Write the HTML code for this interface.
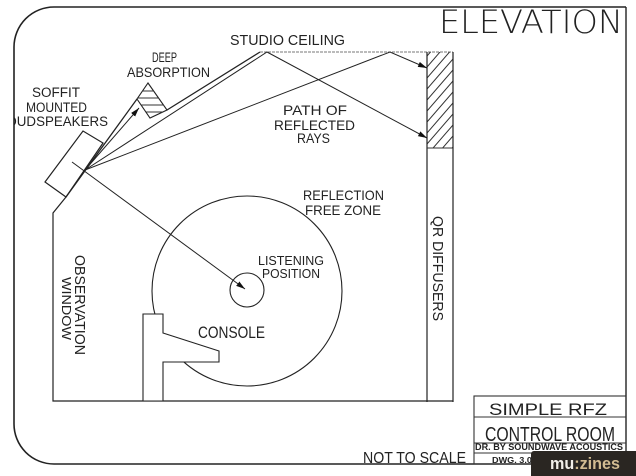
<!DOCTYPE html>
<html><head><meta charset="utf-8"><style>
html,body{margin:0;padding:0;background:#fff;}
svg{display:block;}
text{font-family:"Liberation Sans",sans-serif;fill:#222;}
</style></head><body>
<svg width="636" height="476" viewBox="0 0 636 476" xmlns="http://www.w3.org/2000/svg">
<defs>
<marker id="ah" viewBox="0 0 10 6" refX="10" refY="3" markerWidth="9" markerHeight="6" markerUnits="userSpaceOnUse" orient="auto">
<path d="M0,0 L10,3 L0,6 z" fill="#111"/>
</marker>
<clipPath id="hb"><rect x="427" y="52" width="26" height="96"/></clipPath>
<clipPath id="ab"><polygon points="148,83 167,110 150,118 137,99"/></clipPath>
<clipPath id="lc"><rect x="14" y="100" width="120" height="40"/></clipPath>
</defs>
<rect x="0" y="0" width="636" height="476" fill="#fff"/>

<!-- outer border -->
<path d="M626 7 L54 7 A40 40 0 0 0 14 47 L14 424 A40 40 0 0 0 54 464 L626 464" fill="none" stroke="#222" stroke-width="1.6"/>
<line x1="626" y1="7" x2="626" y2="464" stroke="#222" stroke-width="1.4"/>

<!-- title block -->
<rect x="474" y="396" width="152" height="68" fill="none" stroke="#333" stroke-width="1.1"/>
<line x1="474" y1="417" x2="626" y2="417" stroke="#333" stroke-width="1"/>
<line x1="474" y1="443" x2="626" y2="443" stroke="#333" stroke-width="1"/>
<line x1="474" y1="453" x2="626" y2="453" stroke="#333" stroke-width="1"/>

<!-- ceiling -->
<line x1="260" y1="52" x2="453" y2="52" stroke="#777" stroke-width="1" stroke-dasharray="3 1"/>

<!-- right wall / QR diffusers -->
<g clip-path="url(#hb)" stroke="#333" stroke-width="1">
<line x1="427" y1="56" x2="453" y2="26"/>
<line x1="427" y1="67" x2="453" y2="37"/>
<line x1="427" y1="78" x2="453" y2="48"/>
<line x1="427" y1="89" x2="453" y2="59"/>
<line x1="427" y1="100" x2="453" y2="70"/>
<line x1="427" y1="111" x2="453" y2="81"/>
<line x1="427" y1="122" x2="453" y2="92"/>
<line x1="427" y1="133" x2="453" y2="103"/>
<line x1="427" y1="144" x2="453" y2="114"/>
<line x1="427" y1="155" x2="453" y2="125"/>
<line x1="427" y1="166" x2="453" y2="136"/>
<line x1="427" y1="177" x2="453" y2="147"/>
</g>
<line x1="427" y1="52" x2="427" y2="402" stroke="#222" stroke-width="1.2"/>
<line x1="453" y1="52" x2="453" y2="402" stroke="#222" stroke-width="1.2"/>
<line x1="427" y1="148" x2="453" y2="148" stroke="#333" stroke-width="1"/>

<!-- floor & left wall -->
<polyline points="453,401 53,401 53,213 66,197" fill="none" stroke="#222" stroke-width="1.2"/>

<!-- speaker box -->
<polygon points="45,182 83,131 103,143 66,197" fill="none" stroke="#222" stroke-width="1.2"/>
<!-- front wall to absorber -->
<line x1="66" y1="197" x2="137" y2="99" stroke="#222" stroke-width="1.3"/>
<!-- absorber -->
<polygon points="148,83 167,110 150,118 137,99" fill="none" stroke="#222" stroke-width="1.1"/>
<g clip-path="url(#ab)" stroke="#333" stroke-width="1">
<line x1="130" y1="91" x2="175" y2="91"/>
<line x1="130" y1="98" x2="175" y2="98"/>
<line x1="130" y1="105" x2="175" y2="105"/>
<line x1="130" y1="112" x2="175" y2="112"/>
</g>
<!-- sloped ceiling -->
<line x1="167" y1="110" x2="260" y2="52" stroke="#222" stroke-width="1.3"/>

<!-- rays -->
<line x1="85" y1="170" x2="139" y2="108" stroke="#222" stroke-width="1" marker-end="url(#ah)"/>
<polyline points="85,170 267,52 427,138" fill="none" stroke="#222" stroke-width="1" marker-end="url(#ah)"/>
<polyline points="85,170 390,52 427,68" fill="none" stroke="#222" stroke-width="1" marker-end="url(#ah)"/>
<line x1="72" y1="162" x2="245" y2="289" stroke="#222" stroke-width="1" marker-end="url(#ah)"/>

<!-- RFZ circle & listening -->
<circle cx="247" cy="291" r="95" fill="none" stroke="#222" stroke-width="1.1"/>
<circle cx="247" cy="290" r="17" fill="none" stroke="#222" stroke-width="1.1"/>

<!-- console -->
<polygon points="143,401 143,314 163,314 163,333 219,351 219,362 163,362 163,401" fill="#fff" stroke="#222" stroke-width="1.1"/>

<!-- labels -->
<text x="439" y="33" font-size="32" textLength="184" lengthAdjust="spacingAndGlyphs" style="font-family:'DejaVu Sans','Liberation Sans',sans-serif;font-weight:200">ELEVATION</text>
<text x="230" y="45" font-size="15" textLength="115" lengthAdjust="spacingAndGlyphs">STUDIO CEILING</text>
<text x="152" y="62" font-size="14" textLength="25" lengthAdjust="spacingAndGlyphs">DEEP</text>
<text x="127" y="77" font-size="14" textLength="83" lengthAdjust="spacingAndGlyphs">ABSORPTION</text>
<text x="32" y="97" font-size="13.5" textLength="48" lengthAdjust="spacingAndGlyphs">SOFFIT</text>
<text x="26" y="112" font-size="13.5" textLength="61" lengthAdjust="spacingAndGlyphs">MOUNTED</text>
<g clip-path="url(#lc)"><text x="-1" y="126" font-size="13.5" textLength="109" lengthAdjust="spacingAndGlyphs">LOUDSPEAKERS</text></g>
<text x="283" y="115" font-size="14" textLength="64" lengthAdjust="spacingAndGlyphs">PATH OF</text>
<text x="274" y="130" font-size="14" textLength="81" lengthAdjust="spacingAndGlyphs">REFLECTED</text>
<text x="297" y="143" font-size="14" textLength="33" lengthAdjust="spacingAndGlyphs">RAYS</text>
<text x="303" y="200" font-size="14" textLength="81" lengthAdjust="spacingAndGlyphs">REFLECTION</text>
<text x="305" y="215" font-size="14" textLength="76" lengthAdjust="spacingAndGlyphs">FREE ZONE</text>
<text x="258" y="265" font-size="12.5" textLength="66" lengthAdjust="spacingAndGlyphs">LISTENING</text>
<text x="262" y="278" font-size="12.5" textLength="58" lengthAdjust="spacingAndGlyphs">POSITION</text>
<text x="198" y="338" font-size="17" textLength="67" lengthAdjust="spacingAndGlyphs">CONSOLE</text>
<text x="363" y="463" font-size="16" textLength="103" lengthAdjust="spacingAndGlyphs">NOT TO SCALE</text>
<text x="489" y="415" font-size="17" textLength="118" lengthAdjust="spacingAndGlyphs">SIMPLE RFZ</text>
<text x="485" y="441" font-size="20" textLength="130" lengthAdjust="spacingAndGlyphs">CONTROL ROOM</text>
<text x="475" y="450" font-size="9" font-weight="bold" textLength="148" lengthAdjust="spacingAndGlyphs">DR. BY SOUNDWAVE ACOUSTICS</text>
<text x="492" y="463" font-size="8" font-weight="bold" textLength="45" lengthAdjust="spacingAndGlyphs">DWG. 3.00</text>

<!-- rotated labels -->
<text transform="translate(75,255) rotate(90)" x="0" y="0" font-size="15" textLength="100" lengthAdjust="spacingAndGlyphs">OBSERVATION</text>
<text transform="translate(62,277) rotate(90)" x="0" y="0" font-size="13" textLength="63" lengthAdjust="spacingAndGlyphs">WINDOW</text>
<text transform="translate(433,216) rotate(90)" x="0" y="0" font-size="15" textLength="105" lengthAdjust="spacingAndGlyphs">QR DIFFUSERS</text>

<!-- watermark -->
<path d="M534 451 L636 451 L636 476 L531 476 L531 454 A3 3 0 0 1 534 451 Z" fill="#2a2622"/>
<text x="550" y="469" font-size="17" font-weight="bold" textLength="70" lengthAdjust="spacingAndGlyphs" style="fill:#f2efe9">mu<tspan style="fill:#d2bc92">:zines</tspan></text>
</svg>
</body></html>
